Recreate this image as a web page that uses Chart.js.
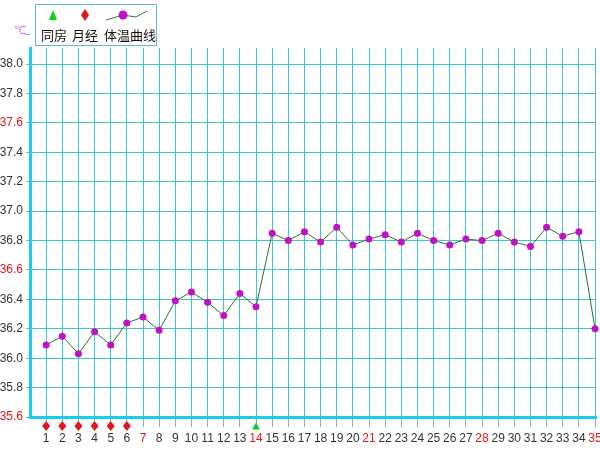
<!DOCTYPE html>
<html><head><meta charset="utf-8">
<script src="https://cdn.jsdelivr.net/npm/chart.js@4"></script>
<style>html,body{margin:0;padding:0;background:#fff}#wrap{width:600px;height:450px}</style>
</head><body><div id="wrap"><canvas id="c" width="600" height="450"></canvas></div>
<script>
const days = [1,2,3,4,5,6,7,8,9,10,11,12,13,14,15,16,17,18,19,20,21,22,23,24,25,26,27,28,29,30,31,32,33,34,35];
const temps = [36.09,36.15,36.03,36.18,36.09,36.24,36.28,36.19,36.39,36.45,36.38,36.29,36.44,36.35,
  36.85,36.80,36.86,36.79,36.89,36.77,36.81,36.84,36.79,36.85,36.80,36.77,36.81,36.80,36.85,36.79,36.76,36.89,36.83,36.86,36.20];
const periodDays = [1,2,3,4,5,6];
const intercourseDays = [14];
const yTicks = [35.6,35.8,36.0,36.2,36.4,36.6,36.8,37.0,37.2,37.4,37.6,37.8,38.0];
const redYTicks = [35.6,36.6,37.6];
const redXTicks = [7,14,21,28,35];
const legendLabels = ['同房','月经','体温曲线'];
const unitLabel = '℃';

const GRID = '#3cc8c8';
const AXIS = '#18cdee';
const RED = '#e01818';
const GREEN = '#10d010';
const TXT = '#333333';
const PURPLE = '#c010c8';

function diamond(ctx, x, y, w, h) {
  ctx.beginPath(); ctx.moveTo(x, y - h/2); ctx.lineTo(x + w/2, y); ctx.lineTo(x, y + h/2); ctx.lineTo(x - w/2, y); ctx.closePath(); ctx.fill();
}
function triangle(ctx, x, y, w, h) {
  ctx.beginPath(); ctx.moveTo(x, y - h/2); ctx.lineTo(x + w/2, y + h/2); ctx.lineTo(x - w/2, y + h/2); ctx.closePath(); ctx.fill();
}

const legendPlugin = {
  id: 'legendBox',
  afterDraw(chart) {
    const ctx = chart.ctx;
    const xs = chart.scales.x;
    const bottom = chart.chartArea.bottom;
    ctx.save();
    ctx.fillStyle = RED;
    periodDays.forEach(d => diamond(ctx, xs.getPixelForValue(d), bottom + 9, 8, 10));
    ctx.fillStyle = GREEN;
    intercourseDays.forEach(d => triangle(ctx, xs.getPixelForValue(d), bottom + 9, 8, 7));
    ctx.strokeStyle = '#60c0c0'; ctx.lineWidth = 1;
    ctx.strokeRect(35.5, 4.5, 121, 41);
    ctx.fillStyle = GREEN;
    triangle(ctx, 53, 15, 8, 10);
    ctx.fillStyle = RED;
    diamond(ctx, 85, 15, 8, 12);
    ctx.strokeStyle = '#2e7a2e'; ctx.lineWidth = 1;
    ctx.beginPath(); ctx.moveTo(106, 20); ctx.lineTo(123, 15); ctx.lineTo(136, 17); ctx.lineTo(147, 11); ctx.stroke();
    ctx.fillStyle = PURPLE;
    ctx.beginPath(); ctx.arc(123, 15, 4.5, 0, Math.PI*2); ctx.fill();
    ctx.fillStyle = '#111';
    ctx.font = '13px "Noto Sans CJK SC"';
    ctx.textBaseline = 'middle'; ctx.textAlign = 'left';
    ctx.fillText(legendLabels[0], 41, 35);
    ctx.fillText(legendLabels[1], 72, 35);
    ctx.fillText(legendLabels[2], 104, 35);
    ctx.fillStyle = '#e070d8';
    ctx.font = '11px "DejaVu Sans"';
    ctx.fillText(unitLabel, 14, 31);
    ctx.strokeStyle = '#80c0c0';
    ctx.beginPath(); ctx.moveTo(25, 34.5); ctx.lineTo(30, 34.5); ctx.stroke();
    ctx.restore();
  }
};

new Chart(document.getElementById('c'), {
  type: 'line',
  data: {
    datasets: [
      {
        data: days.map((d,i)=>({x:d, y:temps[i]})),
        borderColor: '#2e6e2e', borderWidth: 1,
        pointBackgroundColor: PURPLE, pointBorderColor: PURPLE,
        pointRadius: 3.5, pointBorderWidth: 0, tension: 0, clip: false
      }
    ]
  },
  options: {
    responsive: false, animation: false,
    layout: { padding: { top: 48, right: 0, left: 0, bottom: 0 } },
    plugins: { legend: { display: false }, tooltip: { enabled: false } },
    scales: {
      x: {
        type: 'linear', min: 0, max: 35.06,
        afterBuildTicks: s => { s.ticks = days.map(v=>({value:v})); },
        afterFit: s => { s.height = 33; s.paddingRight = 0; s.paddingLeft = 0; },
        grid: { color: GRID, lineWidth: 1, tickLength: 10, tickColor: '#8aaeb0', drawTicks: true },
        border: { color: AXIS, width: 3 },
        ticks: {
          autoSkip: false, maxRotation: 0, padding: 4,
          font: { family: 'Liberation Sans', size: 12 },
          color: c => redXTicks.includes(c.tick.value) ? RED : TXT,
          callback: v => String(v)
        }
      },
      y: {
        type: 'linear', min: 35.6, max: 38.11,
        afterBuildTicks: s => { s.ticks = yTicks.map(v=>({value:v})); },
        afterFit: s => { s.width = 30; s.paddingTop = 0; s.paddingBottom = 0; },
        grid: { color: GRID, lineWidth: 1, tickLength: 4, tickColor: '#70b8c0' },
        border: { color: AXIS, width: 3 },
        ticks: {
          padding: 3,
          font: { family: 'Liberation Sans', size: 12 },
          color: c => redYTicks.some(r => Math.abs(r - c.tick.value) < 1e-6) ? RED : TXT,
          callback: v => v.toFixed(1)
        }
      }
    }
  },
  plugins: [legendPlugin]
});
</script>
</body></html>
